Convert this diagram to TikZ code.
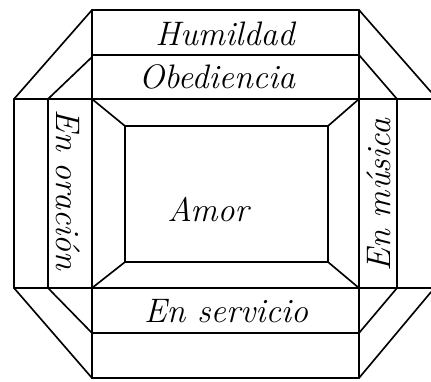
\documentclass[tikz,border=0pt]{standalone}
\usepackage{tikz}

\begin{document}
\begin{tikzpicture}[
    x=0.03cm, y=-0.03cm,
    edge/.style={line width=1.4pt, line cap=round, line join=round},
    word/.style={inner sep=0pt, font=\fontsize{29}{31}\selectfont\itshape}
]
    \useasboundingbox (0,0) rectangle (431,381);

    % front face and its bands
    \draw[edge] (92,10) -- (359,10);
    \draw[edge] (92,55) -- (359,55);
    \draw[edge] (14,99) -- (431,99);
    \draw[edge] (14,288) -- (431,288);
    \draw[edge] (92,333) -- (359,333);
    \draw[edge] (92,378) -- (359,378);
    \draw[edge] (92,10) -- (92,378);
    \draw[edge] (359,10) -- (359,378);

    % side strips
    \draw[edge] (14,99) -- (14,288);
    \draw[edge] (48,99) -- (48,288);
    \draw[edge] (397,99) -- (397,288);

    % bevelled corners
    \draw[edge] (14,99) -- (92,10);
    \draw[edge] (48,99) -- (92,57);
    \draw[edge] (359,10) -- (431,92);
    \draw[edge] (359,55) -- (397,99);
    \draw[edge] (14,288) -- (92,378);
    \draw[edge] (48,288) -- (92,333);
    \draw[edge] (359,378) -- (431,292);
    \draw[edge] (397,288) -- (359,333);

    % inner frame
    \draw[edge] (125,126) rectangle (328,262);
    \draw[edge] (92,99) -- (125,126);
    \draw[edge] (359,99) -- (328,126);
    \draw[edge] (92,288) -- (125,262);
    \draw[edge] (359,288) -- (328,262);

    % labels
    \node[word] (humildad) at (225,34) {Humildad};
    \node[word] (obediencia) at (217,77) {Obediencia};
    \node[word] (amor) at (208,210) {Amor};
    \node[word] (servicio) at (226,311) {En servicio};
    \node[word, rotate=-90] (oracion) at (68,190) {En oración};
    \node[word, rotate=90] (musica) at (379,195) {En música};
\end{tikzpicture}
\end{document}
